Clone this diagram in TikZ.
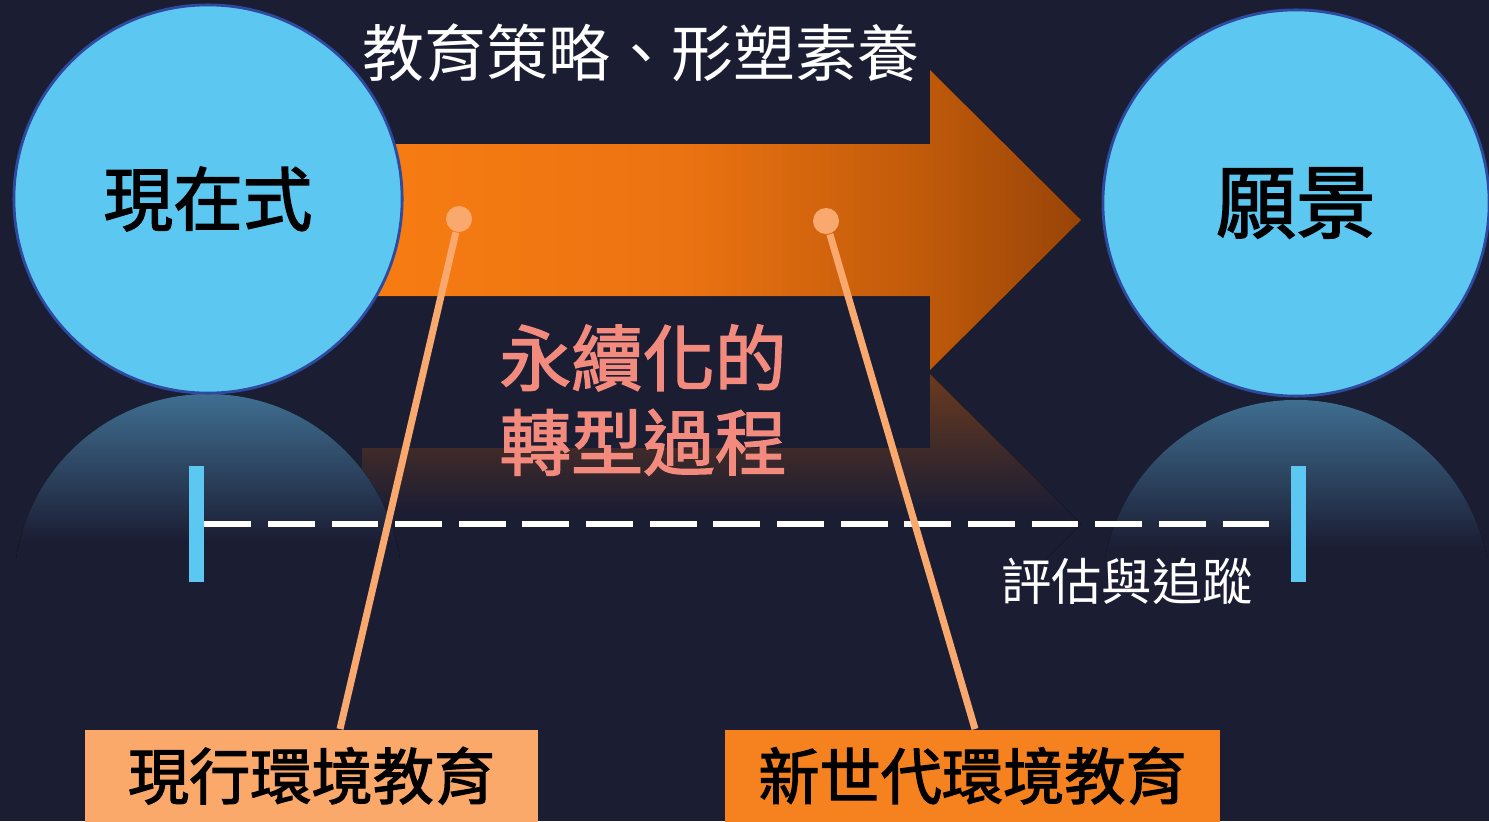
\documentclass[tikz,border=0pt]{standalone}
\usepackage{fontspec}
\usetikzlibrary{calc}
\newfontfamily\cjk{Noto Sans CJK TC}
\newfontfamily\cjkheavy{Noto Sans CJK TC}[FakeBold=2]

\definecolor{navybg}{HTML}{1B1D33}
\definecolor{skyblue}{HTML}{5CC8F1}
\definecolor{ringblue}{HTML}{2E4A9E}
\definecolor{arrowA}{HTML}{F77C12}
\definecolor{arrowB}{HTML}{EC7312}
\definecolor{arrowC}{HTML}{C05A0A}
\definecolor{arrowD}{HTML}{984408}
\definecolor{glowblue}{HTML}{3F6E90}
\definecolor{glowbrown}{HTML}{6A3A1E}
\definecolor{pinktext}{HTML}{F28B7D}
\definecolor{leaderorange}{HTML}{F9A86E}
\definecolor{boxlight}{HTML}{FBA86B}
\definecolor{boxorange}{HTML}{F6821F}

\pgfdeclarehorizontalshading{arrowfill}{100bp}{color(0bp)=(arrowA); color(25bp)=(arrowA); color(47bp)=(arrowB); color(64bp)=(arrowC); color(75bp)=(arrowD); color(100bp)=(arrowD)}
\pgfdeclareverticalshading{ballglow}{100bp}{color(0bp)=(navybg); color(56bp)=(navybg); color(75bp)=(glowblue); color(100bp)=(glowblue)}
\pgfdeclareverticalshading{arrowglow}{100bp}{color(0bp)=(navybg); color(52bp)=(navybg); color(75bp)=(glowbrown); color(100bp)=(glowbrown)}

\begin{document}
\begin{tikzpicture}[x=0.01cm, y=-0.01cm,
		bubble/.style={circle, fill=skyblue, draw=ringblue, line width=0.8pt, inner sep=0pt, text=black},
		evalbar/.style={fill=skyblue, minimum width=0.15cm, minimum height=1.15cm, inner sep=0pt},
		leader/.style={draw=leaderorange, line width=2pt},
		leader dot/.style={circle, fill=leaderorange, minimum size=0.26cm, inner sep=0pt},
		labelbox/.style={anchor=north, minimum height=0.92cm, inner sep=0pt, text=black, font=\cjkheavy\fontsize{17.4}{20}\selectfont}]
			\def\ballR{1.94cm};

			\fill[navybg] (0,0) rectangle (1489,821);
			\useasboundingbox (0,0) rectangle (1489,821);

			\begin{scope}
				\clip (0,372) rectangle (1489,560);
				\fill[shading=arrowglow] (362,600) -- (930,600) -- (930,674) -- (1081,524) -- (930,374) -- (930,448) -- (362,448) -- cycle;
				\fill[shading=ballglow] (208,588) circle [radius=\ballR];
				\fill[shading=ballglow] (1296,594) circle [radius=\ballR];
			\end{scope}

			\fill[shading=arrowfill] (362,144) -- (930,144) -- (930,70) -- (1081,220) -- (930,370) -- (930,296) -- (362,296) -- cycle;

			\node[bubble, minimum size=3.88cm, font=\cjkheavy\fontsize{19.8}{24}\selectfont] (now) at (208,199) {現在式};
			\node[bubble, minimum size=3.86cm, font=\cjkheavy\fontsize{22.7}{27}\selectfont] (vision) at (1296,203) {願景};

			\node[text=white, font=\cjk\fontsize{17.6}{21}\selectfont] (strategy) at (641,53) {教育策略、形塑素養};
			\node[text=pinktext, align=center, font=\cjkheavy\fontsize{20.4}{24}\selectfont] (process) at (643,400) {永續化的\\轉型過程};

			\begin{scope}
				\node[evalbar] (start bar) at (196,524) {};
				\node[evalbar] (end bar) at (1298,524) {};
				\draw[white, line width=1.7pt, dash pattern=on 13.3pt off 4.8pt] (start bar.east) -- ([xshift=-0.12cm]end bar.west);
				\node[text=white, font=\cjk\fontsize{14.3}{17}\selectfont] (tracking) at (1127,581) {評估與追蹤};
			\end{scope}

			\node[leader dot] (old dot) at (459,219) {};
			\node[leader dot] (new dot) at (826,221) {};
			\coordinate (old foot) at (340,729);
			\coordinate (new foot) at (975,729);
			\draw[leader] (old dot) -- (old foot);
			\draw[leader] (new dot) -- (new foot);

			\node[labelbox, fill=boxlight, minimum width=4.53cm] (old ee) at (311.5,729) {現行環境教育};
			\node[labelbox, fill=boxorange, minimum width=4.95cm] (new ee) at (972.5,729) {新世代環境教育};
\end{tikzpicture}
\end{document}
